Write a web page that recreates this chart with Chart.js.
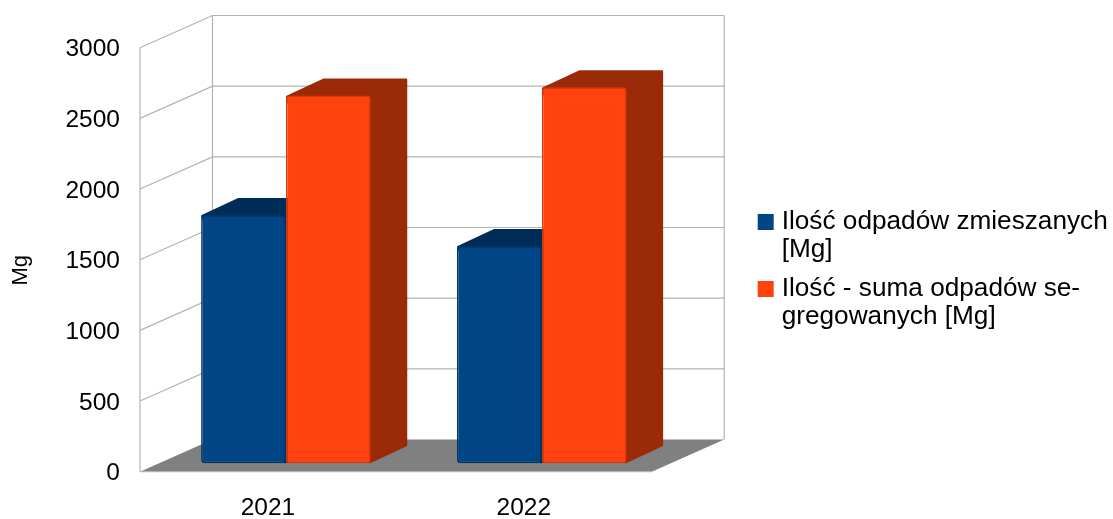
<!DOCTYPE html>
<html lang="pl">
<head>
    <meta charset="UTF-8">
    <title>Ilość odpadów</title>
    <style>
        html, body { margin: 0; padding: 0; background: #fff; }
        canvas { display: block; }
    </style>
</head>
<body>
    <canvas id="wasteChart" width="1113" height="519"></canvas>

    <script src="https://cdn.jsdelivr.net/npm/chart.js@4/dist/chart.umd.min.js"></script>
    <script>
        const categories = ['2021', '2022'];
        const mixedName = ['Ilość odpadów zmieszanych', '[Mg]'];
        const mixedValues = [1757, 1538];
        const segregatedName = ['Ilość - suma odpadów se-', 'gregowanych [Mg]'];
        const segregatedValues = [2602, 2660];
        const axisTitle = 'Mg';

        const FONT = '"Liberation Sans", Arial, sans-serif';
        const GRID = '#b3b3b3';

        // box depth (back wall) and how far the bars stand off the front edge
        const WALL_DX = 72.5, WALL_DY = -32.2;
        const BAR_DX = 18, BAR_DY = -8.4;
        const DEPTH_DX = 36.5, DEPTH_DY = -17;

        function drawWalls(chart) {
            const ctx = chart.ctx;
            const { left, right, top, bottom } = chart.chartArea;

            ctx.save();
            // floor
            ctx.fillStyle = '#808080';
            ctx.beginPath();
            ctx.moveTo(left, bottom);
            ctx.lineTo(left + WALL_DX, bottom + WALL_DY);
            ctx.lineTo(right + WALL_DX, bottom + WALL_DY);
            ctx.lineTo(right, bottom);
            ctx.closePath();
            ctx.fill();

            ctx.strokeStyle = GRID;
            ctx.lineWidth = 1.2;
            ctx.beginPath();
            chart.scales.y.ticks.forEach(t => {
                const py = chart.scales.y.getPixelForValue(t.value);
                if (t.value === 0) {
                    ctx.moveTo(left, py);
                    ctx.lineTo(right, py);
                    return;
                }
                ctx.moveTo(left, py);
                ctx.lineTo(left + WALL_DX, py + WALL_DY);
                ctx.lineTo(right + WALL_DX, py + WALL_DY);
            });
            ctx.moveTo(left, top);
            ctx.lineTo(left, bottom);
            ctx.moveTo(left + WALL_DX, top + WALL_DY);
            ctx.lineTo(left + WALL_DX, bottom + WALL_DY);
            ctx.moveTo(right + WALL_DX, top + WALL_DY);
            ctx.lineTo(right + WALL_DX, bottom + WALL_DY);
            ctx.stroke();
            ctx.restore();
        }

        function drawDepth(ctx, meta, color) {
            meta.data.forEach(bar => {
                const l = bar.x - bar.width / 2, r = bar.x + bar.width / 2;
                const t = bar.y, b = bar.base;
                ctx.lineJoin = 'round';
                ctx.lineWidth = 2;
                ctx.fillStyle = ctx.strokeStyle = color;
                ctx.beginPath();
                ctx.moveTo(l + 1, t + 1);
                ctx.lineTo(l + DEPTH_DX + 1, t + DEPTH_DY + 1);
                ctx.lineTo(r + DEPTH_DX - 1, t + DEPTH_DY + 1);
                ctx.lineTo(r + DEPTH_DX - 1, b + DEPTH_DY - 1);
                ctx.lineTo(r - 1, b - 1);
                ctx.closePath();
                ctx.fill();
                ctx.stroke();
            });
        }

        const walls3d = {
            id: 'walls3d',
            afterLayout(chart) {
                // legend sits away from the plot, the box depth runs through the gap
                chart.legend.left = 750.8;
                chart.legend.top = 197;
                chart.legend.right = 1113;
                chart.legend.bottom = 519;
            },
            beforeDraw(chart) {
                // axis title is centred lower than the value axis
                chart.scales.y.bottom = chart.chartArea.bottom + 21;
            },
            beforeDatasetsDraw(chart) {
                drawWalls(chart);
                // left series first, so the right one overlaps it
                chart.getSortedVisibleDatasetMetas().forEach(meta => {
                    chart.ctx.save();
                    chart.ctx.translate(BAR_DX, BAR_DY);
                    drawDepth(chart.ctx, meta, chart.data.datasets[meta.index].sideColor);
                    meta.controller.draw();
                    chart.ctx.restore();
                });
                return false;
            }
        };

        new Chart(document.getElementById('wasteChart'), {
            type: 'bar',
            data: {
                labels: categories,
                datasets: [
                    {
                        label: mixedName,
                        data: mixedValues,
                        backgroundColor: '#004586',
                        borderColor: '#003364',
                        sideColor: '#002d58',
                        borderWidth: 1.5,
                        borderRadius: 3,
                        borderSkipped: false
                    },
                    {
                        label: segregatedName,
                        data: segregatedValues,
                        backgroundColor: '#ff420e',
                        borderColor: '#d9390c',
                        sideColor: '#9a2a08',
                        borderWidth: 1.5,
                        borderRadius: 3,
                        borderSkipped: false
                    }
                ]
            },
            options: {
                responsive: false,
                animation: false,
                barPercentage: 1,
                categoryPercentage: 0.663,
                layout: { padding: { top: 47.7, right: 244, left: 0, bottom: 0 } },
                scales: {
                    x: {
                        grid: { display: false },
                        border: { display: false },
                        ticks: { color: '#000', font: { family: FONT, size: 24.5 }, padding: 14, maxRotation: 0 },
                        afterFit(scale) { scale.height = 47.3; }
                    },
                    y: {
                        min: 0,
                        max: 3000,
                        grid: { display: false },
                        border: { display: false },
                        ticks: {
                            stepSize: 500,
                            color: '#000',
                            font: { family: FONT, size: 24.5 },
                            padding: 12,
                            labelOffset: 2,
                            callback: v => String(v)
                        },
                        title: { display: true, text: axisTitle, color: '#000', font: { family: FONT, size: 22 }, padding: { top: 8, bottom: 0 } },
                        afterFit(scale) { scale.width = 140; }
                    }
                },
                plugins: {
                    tooltip: { enabled: false },
                    legend: {
                        position: 'right',
                        align: 'start',
                        labels: {
                            color: '#000',
                            font: { family: FONT, size: 26.2, lineHeight: 1.05 },
                            padding: 12,
                            boxWidth: 5.8,
                            boxHeight: 5.8,
                            generateLabels(chart) {
                                return chart.data.datasets.map((ds, i) => ({
                                    text: ds.label,
                                    fillStyle: ds.backgroundColor,
                                    strokeStyle: ds.backgroundColor,
                                    lineWidth: 10.2,
                                    datasetIndex: i
                                }));
                            }
                        }
                    }
                }
            },
            plugins: [walls3d]
        });
    </script>
</body>
</html>
